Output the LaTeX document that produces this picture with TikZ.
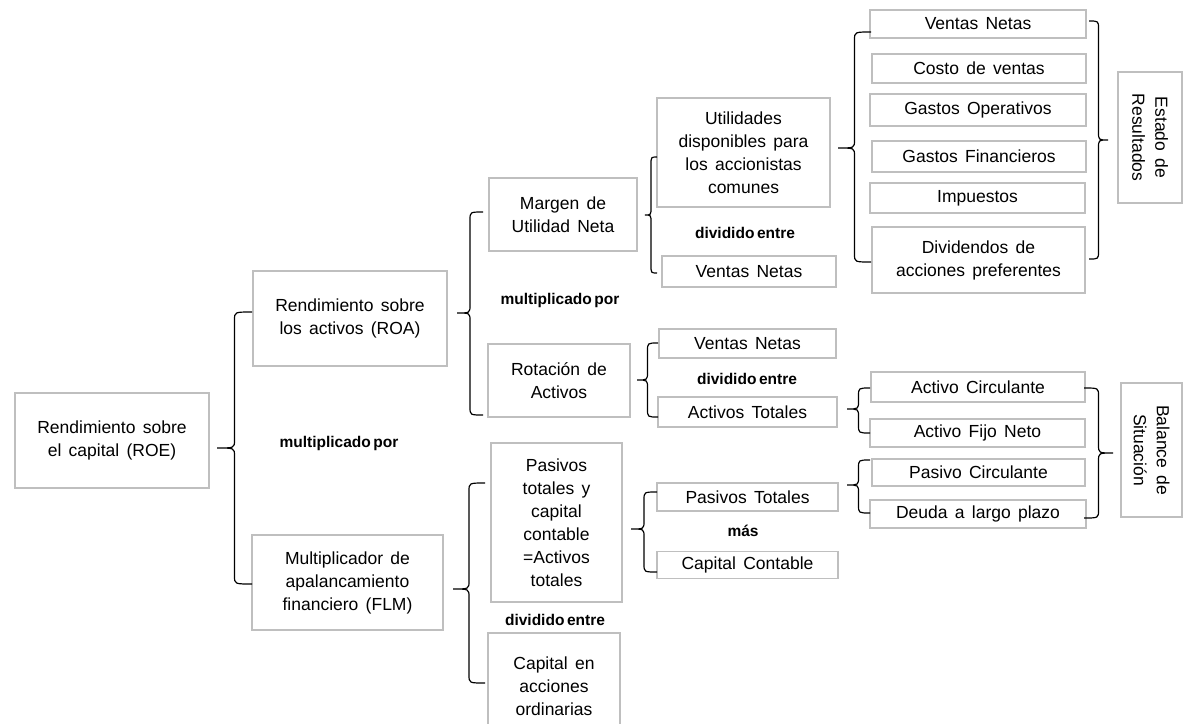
\documentclass[tikz,border=0pt]{standalone}
\usepackage{fontspec}
\setmainfont{Liberation Sans}[WordSpace=1.5]
\newfontfamily\lblfont{Liberation Sans}[WordSpace=0.6]
\usetikzlibrary{calc}
\definecolor{boxgray}{RGB}{191,191,191}
\newcommand{\mybrace}[3]{\draw[brc] let \p1=#1, \p2=#2, \p3=#3, \n1={(\x1+\x2)/2} in
  (\p2) .. controls (\n1,\y2) .. (\n1,\y2-8pt) -- (\n1,\y1+8pt) .. controls (\n1,\y1) .. (\p1)
  .. controls (\n1,\y1) .. (\n1,\y1-8pt) -- (\n1,\y3+8pt) .. controls (\n1,\y3) .. (\p3);}
\begin{document}
\begin{tikzpicture}[x=1pt,y=-1pt,
  box/.style={draw=boxgray,line width=1.1pt,align=center,inner sep=0pt,
    font=\fontsize{17.5}{23}\selectfont,text=black},
  lbl/.style={font=\lblfont\fontsize{15.5}{18}\selectfont\bfseries,inner sep=0pt},
  brc/.style={draw=black,line width=1.2pt}]
\useasboundingbox (0,0) rectangle (1190,723);
% level 0-1
\node[box,minimum width=194pt,minimum height=95pt] (roe) at (112,440.5) {Rendimiento sobre\\el capital (ROE)};
\node[box,minimum width=194pt,minimum height=95pt] (roa) at (350,318.5) {Rendimiento sobre\\los activos (ROA)};
\node[box,minimum width=191pt,minimum height=95pt] (flm) at (347.5,582.5) {Multiplicador de\\apalancamiento\\financiero (FLM)};
% level 2
\node[box,minimum width=148pt,minimum height=73pt] (mun) at (563,214.5) {Margen de\\Utilidad Neta};
\node[box,minimum width=142pt,minimum height=73pt] (rot) at (559,380.5) {Rotación de\\Activos};
\node[box,minimum width=131pt,minimum height=159pt] (ptc) at (556.5,522.5) {Pasivos\\totales y\\capital\\contable\\=Activos\\totales};
\node[box,minimum width=132pt,minimum height=107pt] (cao) at (554,686.5) {Capital en\\acciones\\ordinarias};
% level 3
\node[box,minimum width=173pt,minimum height=109pt] (util) at (743.5,152.5) {Utilidades\\disponibles para\\los accionistas\\comunes};
\node[box,minimum width=174pt,minimum height=31pt] (vn1) at (749,271.5) {Ventas Netas};
\node[box,minimum width=177pt,minimum height=29pt] (vn2) at (747.5,343.5) {Ventas Netas};
\node[box,minimum width=179pt,minimum height=30pt] (at) at (747.5,412) {Activos Totales};
\node[box,minimum width=181pt,minimum height=28pt] (pt) at (747.5,497) {Pasivos Totales};
\node[box,minimum width=181pt,minimum height=27pt] (cc) at (747.5,565) {Capital Contable};
% level 4
\node[box,minimum width=216pt,minimum height=28pt] (vnt) at (978,24) {Ventas Netas};
\node[box,minimum width=214pt,minimum height=29pt] (cv) at (979,68.5) {Costo de ventas};
\node[box,minimum width=216pt,minimum height=32pt] (go) at (978,110) {Gastos Operativos};
\node[box,minimum width=214pt,minimum height=31pt] (gf) at (979,156.5) {Gastos Financieros};
\node[box,minimum width=215pt,minimum height=30pt] (imp) at (977.5,198) {Impuestos};
\node[box,minimum width=213pt,minimum height=66pt] (div) at (978.5,260) {Dividendos de\\acciones preferentes};
\node[box,minimum width=214pt,minimum height=30pt] (ac) at (978,387) {Activo Circulante};
\node[box,minimum width=215pt,minimum height=28pt] (afn) at (977.5,433) {Activo Fijo Neto};
\node[box,minimum width=213pt,minimum height=27pt] (pc) at (978.5,472.5) {Pasivo Circulante};
\node[box,minimum width=216pt,minimum height=28pt] (dlp) at (978,514) {Deuda a largo plazo};
% statements
\node[box,rotate=-90,minimum width=131pt,minimum height=64pt] (er) at (1150,137.5) {Estado de\\Resultados};
\node[box,rotate=-90,minimum width=134pt,minimum height=61pt] (bs) at (1151.5,450) {Balance de\\Situación};
% operator labels
\node[lbl] (op1) at (339,443) {multiplicado por};
\node[lbl] (op2) at (560,300) {multiplicado por};
\node[lbl] (op3) at (745,233) {dividido entre};
\node[lbl] (op4) at (747,379) {dividido entre};
\node[lbl] (op5) at (555,620) {dividido entre};
\node[lbl] (op6) at (743,531) {más};
% brace coordinates
\coordinate (t1) at (217,448);  \coordinate (a1) at (252,312); \coordinate (z1) at (252,584);
\coordinate (t2) at (457,313);  \coordinate (a2) at (483,212); \coordinate (z2) at (483,415);
\coordinate (t3) at (645,215);  \coordinate (a3) at (657,157); \coordinate (z3) at (657,273);
\coordinate (t4) at (637,380);  \coordinate (a4) at (658,343); \coordinate (z4) at (658,417);
\coordinate (t5) at (453,589);  \coordinate (a5) at (485,483); \coordinate (z5) at (485,683);
\coordinate (t6) at (631,529);  \coordinate (a6) at (657,492); \coordinate (z6) at (657,572);
\coordinate (t7) at (838,148);  \coordinate (a7) at (871,32);  \coordinate (z7) at (871,262);
\coordinate (t8) at (1108,140); \coordinate (a8) at (1089,21); \coordinate (z8) at (1089,259);
\coordinate (t9) at (847,409);  \coordinate (a9) at (870,388); \coordinate (z9) at (870,433);
\coordinate (t10) at (847,485); \coordinate (a10) at (870,460); \coordinate (z10) at (870,513);
\coordinate (t11) at (1113,453); \coordinate (a11) at (1084,388); \coordinate (z11) at (1084,518);
% braces
\mybrace{(t1)}{(a1)}{(z1)}
\mybrace{(t2)}{(a2)}{(z2)}
\mybrace{(t3)}{(a3)}{(z3)}
\mybrace{(t4)}{(a4)}{(z4)}
\mybrace{(t5)}{(a5)}{(z5)}
\mybrace{(t6)}{(a6)}{(z6)}
\mybrace{(t7)}{(a7)}{(z7)}
\mybrace{(t8)}{(a8)}{(z8)}
\mybrace{(t9)}{(a9)}{(z9)}
\mybrace{(t10)}{(a10)}{(z10)}
\mybrace{(t11)}{(a11)}{(z11)}
\end{tikzpicture}
\end{document}
